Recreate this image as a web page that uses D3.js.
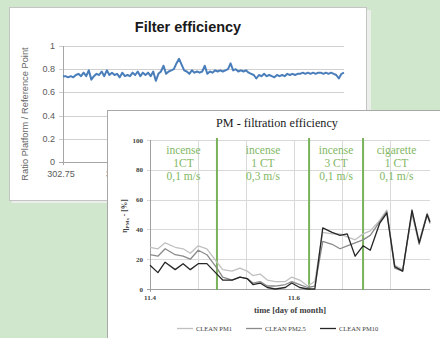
<!DOCTYPE html>
<html>
<head>
<meta charset="utf-8">
<title>PM filtration efficiency</title>
<script src="https://d3js.org/d3.v7.min.js"></script>
<style>
  body { margin: 0; background: #d0e6cd; }
  #chart { display: block; }
</style>
</head>
<body>
<svg id="chart" width="440" height="338"></svg>
<script>
// ---- back chart: Filter efficiency ----
const backTicksX = [302.75, 302.8];
const backTicksY = [0, 0.2, 0.4, 0.6, 0.8, 1];
const ratio = [
  0.74, 0.74, 0.73, 0.74, 0.73, 0.75, 0.76, 0.74, 0.77, 0.74, 0.79, 0.71, 0.74, 0.76, 0.75, 0.78,
  0.74, 0.79, 0.75, 0.77, 0.75, 0.76, 0.73, 0.77, 0.74, 0.75, 0.74, 0.77, 0.75, 0.78, 0.74, 0.77,
  0.75, 0.77, 0.74, 0.78, 0.70, 0.76, 0.78, 0.83, 0.76, 0.78, 0.79, 0.80, 0.85, 0.89, 0.84, 0.79,
  0.78, 0.76, 0.79, 0.77, 0.78, 0.77, 0.78, 0.83, 0.76, 0.78, 0.77, 0.79, 0.78,
  0.79, 0.78, 0.79, 0.80, 0.85, 0.79, 0.80, 0.78, 0.79, 0.78, 0.79, 0.77, 0.76, 0.75, 0.72, 0.75,
  0.74, 0.76, 0.74, 0.75, 0.74, 0.73, 0.75, 0.74, 0.75, 0.74, 0.76, 0.75, 0.76, 0.75, 0.76, 0.76,
  0.77, 0.76, 0.77, 0.76, 0.77, 0.76, 0.77, 0.77, 0.76, 0.77, 0.76, 0.77, 0.76, 0.75, 0.72, 0.76,
  0.77
];

// ---- front chart: PM - filtration efficiency ----
const pmTime = [
  11.400, 11.411, 11.421, 11.435, 11.446, 11.456, 11.467, 11.479, 11.493, 11.501,
  11.514, 11.525, 11.535, 11.543, 11.553, 11.563, 11.574, 11.588, 11.597, 11.608,
  11.619, 11.629, 11.640, 11.653, 11.664, 11.674, 11.685, 11.696, 11.706, 11.719,
  11.729, 11.740, 11.751, 11.764, 11.774, 11.785, 11.789
];
const pm1 = [28, 27, 31, 28, 27, 24, 29, 27, 18, 13, 12, 14, 12, 9, 10, 6, 5, 5, 8, 6,
  2, 5, 38, 37, 37, 35, 33, 37, 39, 46, 53, 16, 13, 52, 32, 51, 46];
const pm25 = [23, 22, 27, 23, 22, 20, 26, 23, 14, 8, 6, 8, 7, 4, 5, 2, 2, 3, 5, 3,
  1, 2, 32, 30, 27, 29, 31, 33, 36, 45, 52, 14, 12, 51, 30, 50, 44];
const pm10 = [16, 11, 18, 13, 17, 13, 17, 17, 10, 6, 6, 8, 7, 3, 4, 1, 0, 1, 4, 1,
  0, 0, 41, 38, 36, 37, 22, 29, 26, 44, 51, 15, 12, 53, 31, 50, 45];
const seriesNames = ["CLEAN PM1", "CLEAN PM2.5", "CLEAN PM10"];
const seriesColors = ["#c0c0c0", "#8a8a8a", "#262626"];
const phaseBounds = [11.493, 11.621, 11.696];
const phaseLabels = [
  ["incense", "1CT", "0,1 m/s"],
  ["incense", "1 CT", "0,3 m/s"],
  ["incense", "3 CT", "0,1 m/s"],
  ["cigarette", "1 CT", "0,1 m/s"]
];
const pmTicksY = [0, 20, 40, 60, 80, 100];
const pmTicksX = [11.4, 11.6];
const pmGridX = [11.4667, 11.5333, 11.6, 11.6667, 11.7333];

const svg = d3.select('#chart');

// ===== back chart =====
svg.append('rect')
  .attr('x', 12).attr('y', 10).attr('width', 359).attr('height', 193)
  .attr('fill', '#eaf0e9');
svg.append('rect')
  .attr('x', 9.5).attr('y', 7.5).attr('width', 357).attr('height', 193)
  .attr('fill', 'white').attr('stroke', '#c4c4c4');

const bx = d3.scaleLinear().domain([302.75, 303]).range([63, 344]);
const bi = d3.scaleLinear().domain([0, ratio.length - 1]).range([63, 344]);
const by = d3.scaleLinear().domain([0, 1]).range([162, 46]);

svg.append('text')
  .attr('x', 188).attr('y', 31.5)
  .attr('text-anchor', 'middle')
  .attr('font-family', 'Liberation Sans, Arial, sans-serif')
  .attr('font-size', '14.5px').attr('font-weight', 'bold')
  .attr('fill', '#1a1a1a')
  .text('Filter efficiency');

backTicksY.forEach(v => {
  svg.append('line')
    .attr('x1', 59).attr('x2', 344)
    .attr('y1', Math.round(by(v)) + 0.5).attr('y2', Math.round(by(v)) + 0.5)
    .attr('stroke', v === 0 ? '#a6a6a6' : '#d0d0d0');
  svg.append('text')
    .attr('x', 55).attr('y', by(v) + 3)
    .attr('text-anchor', 'end')
    .attr('font-family', 'Liberation Sans, Arial, sans-serif')
    .attr('font-size', '9px').attr('fill', '#595959')
    .text(v);
});
svg.append('line')
  .attr('x1', 63.5).attr('x2', 63.5).attr('y1', 46).attr('y2', 165)
  .attr('stroke', '#a6a6a6');

backTicksX.forEach(v => {
  svg.append('text')
    .attr('x', bx(v) - 2).attr('y', 177)
    .attr('text-anchor', 'middle')
    .attr('font-family', 'Liberation Sans, Arial, sans-serif')
    .attr('font-size', '9px').attr('fill', '#595959')
    .text(v);
});

svg.append('text')
  .attr('transform', 'translate(28,114) rotate(-90)')
  .attr('text-anchor', 'middle')
  .attr('font-family', 'Liberation Sans, Arial, sans-serif')
  .attr('font-size', '9.3px').attr('fill', '#666')
  .text('Ratio Platform / Reference Point');

svg.append('path')
  .datum(ratio)
  .attr('fill', 'none')
  .attr('stroke', '#4a7ebb')
  .attr('stroke-width', 2)
  .attr('stroke-linejoin', 'round')
  .attr('d', d3.line().x((d, i) => bi(i)).y(d => by(d)));

// ===== front chart =====
svg.append('rect')
  .attr('x', 107.5).attr('y', 110.5).attr('width', 340).attr('height', 240)
  .attr('fill', 'white').attr('stroke', '#a8a8a8');

const fx = d3.scaleLinear().domain([11.4, 11.789]).range([150, 430]);
const fy = d3.scaleLinear().domain([0, 100]).range([289, 140]);
const serif = 'Liberation Serif, Times New Roman, serif';

svg.append('text')
  .attr('x', 277).attr('y', 127)
  .attr('text-anchor', 'middle')
  .attr('font-family', serif)
  .attr('font-size', '12.2px').attr('fill', '#1a1a1a')
  .text('PM - filtration efficiency');

// grid
pmTicksY.forEach(v => {
  svg.append('line')
    .attr('x1', 147).attr('x2', 430)
    .attr('y1', Math.round(fy(v)) + 0.5).attr('y2', Math.round(fy(v)) + 0.5)
    .attr('stroke', v === 0 ? '#a0a0a0' : '#d9d9d9');
  svg.append('text')
    .attr('x', 143).attr('y', fy(v) + 2.5)
    .attr('text-anchor', 'end')
    .attr('font-family', serif).attr('font-weight', 'bold')
    .attr('font-size', '7px').attr('fill', '#404040')
    .text(v);
});
pmGridX.forEach(v => {
  svg.append('line')
    .attr('x1', Math.round(fx(v)) + 0.5).attr('x2', Math.round(fx(v)) + 0.5)
    .attr('y1', 140).attr('y2', 289)
    .attr('stroke', '#d9d9d9');
});
svg.append('line')
  .attr('x1', 150.5).attr('x2', 150.5).attr('y1', 140).attr('y2', 292)
  .attr('stroke', '#a0a0a0');

pmTicksX.forEach(v => {
  svg.append('text')
    .attr('x', fx(v)).attr('y', 300)
    .attr('text-anchor', 'middle')
    .attr('font-family', serif).attr('font-weight', 'bold')
    .attr('font-size', '7px').attr('fill', '#404040')
    .text(v);
});

svg.append('text')
  .attr('x', 290).attr('y', 313)
  .attr('text-anchor', 'middle')
  .attr('font-family', serif).attr('font-weight', 'bold')
  .attr('font-size', '8.5px').attr('fill', '#404040')
  .text('time [day of month]');

const yl = svg.append('text')
  .attr('transform', 'translate(127,216) rotate(-90)')
  .attr('text-anchor', 'middle')
  .attr('font-family', serif).attr('font-weight', 'bold')
  .attr('font-size', '7.5px').attr('fill', '#404040');
yl.append('tspan').text('η');
yl.append('tspan').attr('font-size', '5px').attr('dy', 2).text('PMx');
yl.append('tspan').attr('dy', -2).text(' - [%]');

// phase separators
phaseBounds.forEach(v => {
  svg.append('line')
    .attr('x1', fx(v)).attr('x2', fx(v))
    .attr('y1', 138).attr('y2', 290)
    .attr('stroke', '#79b25a').attr('stroke-width', 2);
});
const edges = [11.4].concat(phaseBounds, [11.789]);
phaseLabels.forEach((lines, i) => {
  const cx = (fx(edges[i]) + fx(edges[i + 1])) / 2;
  lines.forEach((t, j) => {
    svg.append('text')
      .attr('x', cx).attr('y', 154 + j * 13)
      .attr('text-anchor', 'middle')
      .attr('font-family', serif)
      .attr('font-size', '11.5px').attr('fill', '#82b764')
      .text(t);
  });
});

// series
const line = d3.line().x((d, i) => fx(pmTime[i])).y(d => fy(d));
[pm1, pm25, pm10].forEach((s, k) => {
  svg.append('path')
    .datum(s)
    .attr('fill', 'none')
    .attr('stroke', seriesColors[k])
    .attr('stroke-width', 1.3)
    .attr('stroke-linejoin', 'round')
    .attr('d', line);
});

// legend
const legX = [177, 246, 320];
seriesNames.forEach((n, k) => {
  svg.append('line')
    .attr('x1', legX[k]).attr('x2', legX[k] + 16)
    .attr('y1', 328.5).attr('y2', 328.5)
    .attr('stroke', seriesColors[k]).attr('stroke-width', 1.3);
  svg.append('text')
    .attr('x', legX[k] + 19).attr('y', 331)
    .attr('font-family', serif)
    .attr('font-size', '6.5px').attr('fill', '#404040')
    .text(n);
});
</script>
</body>
</html>
